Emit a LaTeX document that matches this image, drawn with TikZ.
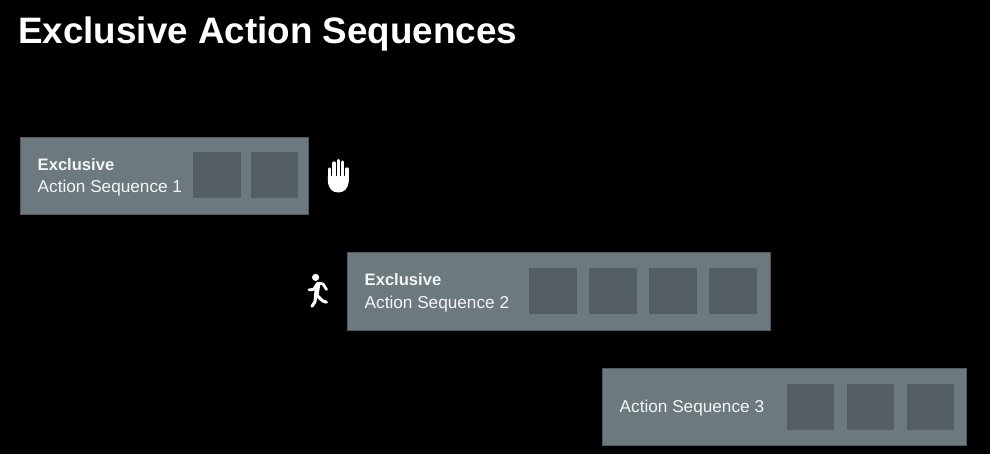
\documentclass[tikz,border=0pt]{standalone}
\usepackage{fontspec}
\setmainfont{Liberation Sans}
\definecolor{boxgray}{HTML}{6C797F}
\definecolor{boxedge}{HTML}{50595E}
\definecolor{slotgray}{HTML}{535F65}
\definecolor{textwhite}{HTML}{F4F5F5}
\tikzset{
  seqbox/.style={draw=boxedge,line width=0.6pt,fill=boxgray,anchor=north west,inner sep=0pt,minimum height=77pt},
  slot/.style={fill=slotgray,anchor=north west,inner sep=0pt,minimum width=47.5pt,minimum height=46pt},
  seqtext/.style={anchor=base west,inner sep=0pt,text=textwhite,font=\fontsize{17.2}{20}\selectfont},
  seqhead/.style={seqtext,font=\fontsize{16.6}{20}\selectfont\bfseries},
  stroke/.style={draw=white,line cap=round,line join=round},
}
\begin{document}
\begin{tikzpicture}[x=1pt,y=-1pt]
\useasboundingbox[fill=black] (0,0) rectangle (990,454);

% title
\node at (18,44) [anchor=base west,inner sep=0pt,text=white,font=\fontsize{36.8}{44}\selectfont\bfseries] (title) {Exclusive Action Sequences};

% first sequence
\node at (20,137) [seqbox,minimum width=287.5pt] (seq1) {};
\node at (37.5,171) [seqhead] (head1) {Exclusive};
\node at (37.5,193) [seqtext] (label1) {Action Sequence 1};
\node at (193,152) [slot] (s11) {};
\node at (250.5,152) [slot] (s12) {};

% second sequence
\node at (347,252.5) [seqbox,minimum width=422.5pt] (seq2) {};
\node at (364.5,286) [seqhead] (head2) {Exclusive};
\node at (364.5,308) [seqtext] (label2) {Action Sequence 2};
\foreach \x/\n in {528.8/1,588.8/2,648.8/3,708.8/4}
  \node at (\x,268) [slot] (s2\n) {};

% third sequence
\node at (602,368) [seqbox,minimum width=364pt] (seq3) {};
\node at (619.5,412) [seqtext] (label3) {Action Sequence 3};
\foreach \x/\n in {786.5/1,846.5/2,906.5/3}
  \node at (\x,384) [slot] (s3\n) {};

% hand
\fill[white] (327.8,176) -- (348.8,176) -- (348.8,181)
  .. controls (348,189) and (344,192.5) .. (338.3,192.5) .. controls (332.5,192.5) and (328.5,189) .. (327.8,181) -- cycle;
\foreach \x/\y in {329.6/169,333.9/163,338.3/160.5,342.6/162,347/169}
  \draw[stroke,line width=3.3pt] (\x,\y) -- (\x,180);

% runner
\fill[white] (315.6,277.4) circle (3.6);
\draw[stroke,line width=4.6pt] (318,284.5) -- (316.2,295);
\draw[stroke,line width=2.8pt] (317.5,283.5) -- (313.5,289.5) -- (309,289.8);
\draw[stroke,line width=2.8pt] (318.5,283.2) -- (323,284) -- (326.5,289.5);
\draw[stroke,line width=3.1pt] (316.6,295) -- (322.5,300.8) -- (326.4,302.2);
\draw[stroke,line width=3.1pt] (315.6,296) -- (315,301.7) -- (312,306.2);
\end{tikzpicture}
\end{document}
